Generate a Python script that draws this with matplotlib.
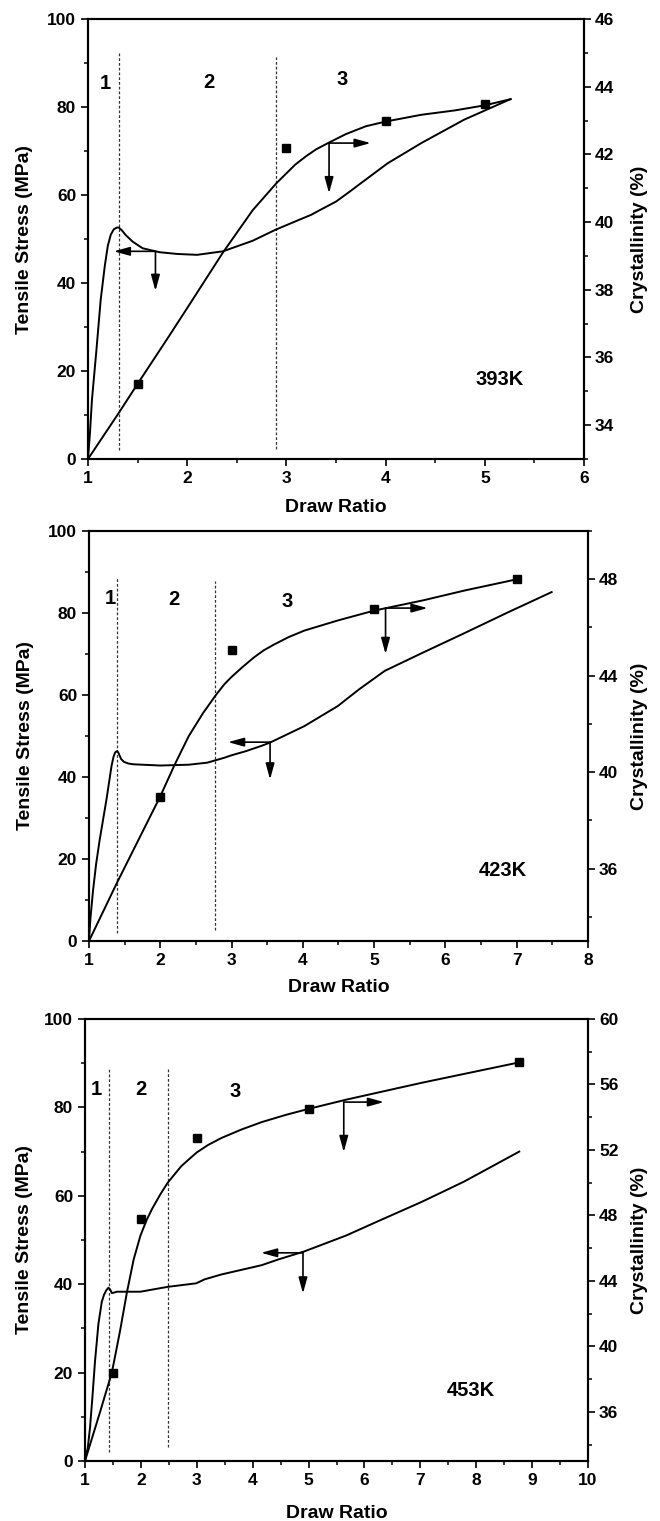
import matplotlib
matplotlib.use('Agg')
import matplotlib.pyplot as plt
from matplotlib.ticker import MultipleLocator

plt.rcParams['font.family'] = ['Liberation Sans', 'DejaVu Sans']
plt.rcParams['font.weight'] = 'bold'

# ---------------- 393K ----------------
stress393_x = [1.0, 1.02, 1.04, 1.085, 1.128, 1.17, 1.20, 1.23, 1.26, 1.29, 1.31, 1.34,
               1.38, 1.45, 1.55, 1.72, 1.9, 2.1, 2.36, 2.66, 2.89, 3.09, 3.25, 3.34, 3.5,
               3.64, 3.77, 4.02, 4.36, 4.79, 5.26]
stress393_y = [0, 6.0, 13.5, 24.8, 36.2, 44.0, 48.5, 51.0, 52.2, 52.6, 52.6, 52.0,
               50.9, 49.4, 47.9, 47.0, 46.6, 46.4, 47.2, 49.6, 52.1, 54.0, 55.5, 56.6, 58.5,
               60.8, 63.0, 67.2, 71.8, 77.1, 81.8]
cryst393_x = [1.0, 1.31, 1.5, 1.81, 2.02, 2.36, 2.66, 2.90, 3.09, 3.2, 3.3, 3.43, 3.6,
              3.8, 4.0, 4.36, 4.7, 5.0, 5.26]
cryst393_y = [33.0, 34.36, 35.22, 36.6, 37.55, 39.1, 40.35, 41.15, 41.7, 41.95, 42.15,
              42.35, 42.6, 42.83, 42.97, 43.17, 43.3, 43.45, 43.63]
mark393_x = [1.5, 3, 4, 5]
mark393_y = [35.22, 42.19, 43.0, 43.49]

# ---------------- 423K ----------------
stress423_x = [1.0, 1.02, 1.057, 1.10, 1.15, 1.245, 1.316, 1.345, 1.365, 1.38, 1.396,
               1.41, 1.43, 1.45, 1.49, 1.55, 1.62, 2.0, 2.4, 2.66, 2.9, 3.0, 3.2, 3.42,
               3.54, 4.02, 4.49, 4.79, 5.15, 5.68, 6.28, 6.87, 7.49]
stress423_y = [0, 5.5, 12.4, 18.8, 24.7, 34.5, 42.7, 45.0, 45.9, 46.2, 46.3,
               46.0, 45.2, 44.4, 43.7, 43.3, 43.1, 42.8, 43.0, 43.5, 44.7, 45.3, 46.3, 47.6,
               48.4, 52.4, 57.3, 61.4, 65.9, 70.3, 75.2, 80.1, 85.1]
cryst423_x = [1.0, 1.39, 2.0, 2.2, 2.4, 2.6, 2.78, 2.9, 3.0, 3.15, 3.31, 3.45, 3.6,
              3.8, 4.02, 4.49, 5.0, 5.68, 6.28, 6.99]
cryst423_y = [33.0, 35.4, 39.0, 40.3, 41.5, 42.45, 43.2, 43.65, 43.95, 44.35, 44.75,
              45.05, 45.3, 45.6, 45.87, 46.29, 46.7, 47.12, 47.54, 47.99]
mark423_x = [2, 3, 5, 7]
mark423_y = [38.95, 45.07, 46.78, 48.0]

# ---------------- 453K ----------------
stress453_x = [1.0, 1.05, 1.09, 1.13, 1.18, 1.24, 1.30, 1.34, 1.38, 1.42, 1.45, 1.48,
               1.52, 1.57, 1.99, 2.48, 2.99, 3.14, 3.44, 4.16, 4.46, 4.92, 5.67, 6.27,
               7.02, 7.78, 8.77]
stress453_y = [0, 3.0, 7.6, 14.0, 22.7, 31.0, 36.0, 37.6, 38.6, 39.2, 38.8, 38.0,
               38.1, 38.3, 38.3, 39.4, 40.2, 41.1, 42.2, 44.3, 45.6, 47.4, 51.0, 54.4,
               58.6, 63.2, 70.0]
cryst453_x = [1.0, 1.27, 1.48, 1.55, 1.63, 1.75, 1.87, 1.99, 2.1, 2.2, 2.35, 2.48, 2.6,
              2.72, 2.85, 3.0, 3.2, 3.44, 3.8, 4.16, 4.6, 4.99, 5.67, 7.02, 8.77]
cryst453_y = [33.0, 36.0, 38.4, 39.6, 41.0, 43.3, 45.3, 46.75, 47.7, 48.4, 49.3, 50.0,
              50.5, 51.0, 51.4, 51.85, 52.3, 52.73, 53.25, 53.7, 54.15, 54.5, 55.07,
              56.1, 57.35]
mark453_x = [1.5, 2, 3, 5, 8.77]
mark453_y = [38.4, 47.8, 52.73, 54.5, 57.35]

temps = ['393K', '423K', '453K']
x_max = [6, 8, 10]
cryst_range = [(33, 46), (33, 50), (33, 60)]
cryst_major = [2, 4, 4]
cryst_first = [34, 36, 36]
region_names = ['1', '2', '3']
region_pos = [[(1.17, 85.4), (2.22, 85.5), (3.56, 86.2)],
              [(1.30, 83.5), (2.19, 83.3), (3.78, 82.9)],
              [(1.21, 84.1), (2.00, 84.1), (3.69, 83.7)]]
temp_pos = [(5.15, 18.0), (6.81, 17.1), (7.9, 15.9)]
divider_x = [(1.31, 2.90), (1.39, 2.77), (1.43, 2.48)]
divider_y = [((2.1, 92.2), (2.3, 91.3)), ((2.0, 88.6), (2.8, 87.8)), ((2.1, 88.7), (3.1, 88.7))]
# arrows: (start x, start y, horizontal tip x, vertical tip y) in stress units
arrow_left = [(1.68, 47.2, 1.26, 38.2), (3.54, 48.5, 2.95, 39.4), (4.9, 47.1, 4.15, 37.9)]
arrow_right = [(3.43, 71.8, 3.85, 60.4), (5.16, 81.2, 5.75, 70.0), (5.63, 81.2, 6.35, 69.9)]

stress_x = [stress393_x, stress423_x, stress453_x]
stress_y = [stress393_y, stress423_y, stress453_y]
cryst_x = [cryst393_x, cryst423_x, cryst453_x]
cryst_y = [cryst393_y, cryst423_y, cryst453_y]
mark_x = [mark393_x, mark423_x, mark453_x]
mark_y = [mark393_y, mark423_y, mark453_y]

W, H = 660, 1521
# pixel boxes: left, right, top, bottom
boxes = [(88, 584, 19, 459), (89, 588, 531, 941), (85, 588, 1019, 1461)]
xlabel_center = [507, 987, 1513]

fig = plt.figure(figsize=(W / 100, H / 100), dpi=100)

tick_fs = 12.5
lab_fs = 14

def arrow(ax, x0, y0, x1, y1):
    ax.annotate('', xy=(x1, y1), xytext=(x0, y0),
                arrowprops=dict(arrowstyle='-|>,head_length=0.8,head_width=0.22',
                                color='k', lw=1.2, shrinkA=0, shrinkB=0,
                                mutation_scale=12))

for i in range(3):
    l, r, t, b = boxes[i]
    ax = fig.add_axes([l / W, 1 - b / H, (r - l) / W, (b - t) / H])
    hpx = b - t
    ax.plot(stress_x[i], stress_y[i], color='k', lw=1.4, zorder=3,
            solid_joinstyle='round')
    ax.set_xlim(1, x_max[i])
    ax.set_ylim(0, 100)
    ax.xaxis.set_major_locator(MultipleLocator(1))
    ax.xaxis.set_minor_locator(MultipleLocator(0.5))
    ax.yaxis.set_major_locator(MultipleLocator(20))
    ax.yaxis.set_minor_locator(MultipleLocator(10))
    ax.tick_params(axis='both', which='major', direction='out', length=5, width=1.2,
                   labelsize=tick_fs, pad=3.5)
    ax.tick_params(axis='both', which='minor', direction='out', length=3, width=1.1)
    ax.tick_params(axis='y', which='both', right=False)
    ax.tick_params(axis='x', which='both', top=False)
    for lab in ax.get_xticklabels() + ax.get_yticklabels():
        lab.set_fontweight('bold')

    for dx, (y0, y1) in zip(divider_x[i], divider_y[i]):
        ax.plot([dx, dx], [y0, y1], color='#333333', lw=0.9, ls=(0, (2.2, 1.6)), zorder=2)

    for name, (px, py) in zip(region_names, region_pos[i]):
        ax.text(px, py, name, fontsize=14.5, fontweight='bold', ha='center', va='center')
    ax.text(temp_pos[i][0], temp_pos[i][1], temps[i], fontsize=14.5, fontweight='bold',
            ha='center', va='center')

    x0, y0, xt, yt = arrow_left[i]
    arrow(ax, x0, y0, xt, y0)
    arrow(ax, x0, y0, x0, yt)
    x0, y0, xt, yt = arrow_right[i]
    arrow(ax, x0, y0, xt, y0)
    arrow(ax, x0, y0, x0, yt)

    ax.set_xlabel('Draw Ratio', fontsize=lab_fs, fontweight='bold')
    ax.xaxis.set_label_coords(0.5, -(xlabel_center[i] - b) / hpx)
    ax.xaxis.label.set_va('center')
    ax.set_ylabel('Tensile Stress (MPa)', fontsize=lab_fs, fontweight='bold')
    ax.yaxis.set_label_coords((25 - l) / (r - l), 0.5)
    ax.yaxis.label.set_va('center')

    ax2 = ax.twinx()
    ax2.plot(cryst_x[i], cryst_y[i], color='k', lw=1.4, zorder=3,
             solid_joinstyle='round')
    ax2.plot(mark_x[i], mark_y[i], 's', color='k', ms=6, zorder=4, clip_on=False)
    ax2.set_ylim(*cryst_range[i])
    ax2.yaxis.set_minor_locator(MultipleLocator(cryst_major[i] / 2))
    lo, hi = cryst_range[i]
    ax2.set_yticks([v for v in range(cryst_first[i], hi + 1, cryst_major[i])])
    ax2.tick_params(axis='y', which='major', direction='out', length=5, width=1.2,
                    labelsize=tick_fs, pad=3)
    ax2.tick_params(axis='y', which='minor', direction='out', length=3, width=1.1)
    for lab in ax2.get_yticklabels():
        lab.set_fontweight('bold')
    ax2.set_ylabel('Crystallinity (%)', fontsize=lab_fs, fontweight='bold')
    ax2.yaxis.set_label_coords((640 - l) / (r - l), 0.5)
    ax2.yaxis.label.set_va('center')

    for a in (ax, ax2):
        for sp in a.spines.values():
            sp.set_linewidth(1.5)

fig.savefig('out.png', dpi=100)
